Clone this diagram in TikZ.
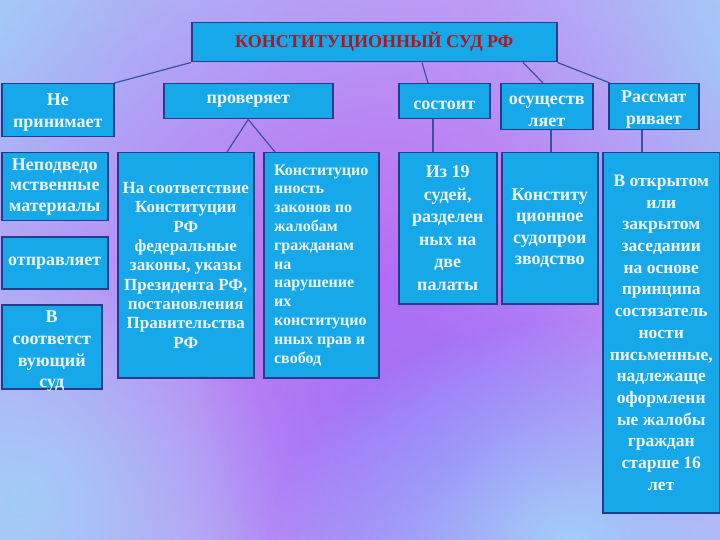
\documentclass[tikz,border=0pt]{standalone}
\usepackage{fontspec}
\setmainfont{Liberation Serif}
\usetikzlibrary{fadings}
\definecolor{boxfill}{RGB}{22,168,232}
\definecolor{boxdraw}{RGB}{35,60,140}
\definecolor{linec}{RGB}{60,80,160}
\definecolor{titlered}{RGB}{180,20,30}
\definecolor{txt}{RGB}{240,247,252}
\definecolor{bgbase}{RGB}{192,172,246}
\definecolor{bgblue}{RGB}{162,205,248}
\definecolor{bgpurple}{RGB}{186,108,242}
\definecolor{bgviolet}{RGB}{150,108,250}
\tikzfading[name=softedge, inner color=transparent!0, outer color=transparent!100]
\begin{document}
\begin{tikzpicture}[x=1pt,y=-1pt,
  box/.style={draw=boxdraw, line width=1.5pt, fill=boxfill, anchor=north west,
    inner sep=0pt, text=txt, align=center,
    font=\bfseries\fontsize{18}{21}\selectfont},
  fs/.style 2 args={font=\bfseries\fontsize{#1}{#2}\selectfont},
  conn/.style={draw=linec, line width=1.2pt}]
\useasboundingbox (0,0) rectangle (720,540);
\fill[bgbase] (0,0) rectangle (720,540);
\fill[bgblue, path fading=softedge] (0,40) ellipse [x radius=520, y radius=380];
\fill[bgblue, path fading=softedge] (720,60) ellipse [x radius=260, y radius=280];
\fill[bgpurple, path fading=softedge] (360,280) ellipse [x radius=480, y radius=420];
\fill[bgviolet, path fading=softedge] (450,470) ellipse [x radius=260, y radius=260];
\fill[bgblue, path fading=softedge] (570,540) ellipse [x radius=300, y radius=220];
\fill[bgblue, path fading=softedge] (20,500) ellipse [x radius=260, y radius=260];

\node[box, text=titlered, minimum width=365, minimum height=39] (top) at (191,22) {КОНСТИТУЦИОННЫЙ СУД РФ};
\node[box, fs={18}{22}, minimum width=112, minimum height=53] (nep) at (1,83) {\rule{0pt}{17pt}Не\\принимает};
\node[box, minimum width=169, minimum height=35] (prov) at (163,83) {проверяет};
\node[box, minimum width=91, minimum height=35] (sost) at (398,83) {\rule{0pt}{16pt}состоит};
\node[box, fs={18}{22}, minimum width=92, minimum height=46] (osush) at (500,83) {\rule{0pt}{17pt}осуществ\\ляет};
\node[box, fs={18}{22}, minimum width=90, minimum height=46] (rass) at (608,83) {\rule{0pt}{17pt}Рассмат\\ривает};

\node[box, fs={18}{20.5}, minimum width=106, minimum height=68] (neprod) at (1,152) {Неподведо\\мственные\\материалы};
\node[box, minimum width=106, minimum height=52] (otpr) at (1,236) {отправляет};
\node[box, fs={18}{21.7}, inner ysep=-3pt, minimum width=100, minimum height=84] (vsoot) at (1,304) {\rule{0pt}{21pt}В\\соответст\\вующий\\суд};
\node[box, fs={17}{19.3}, minimum width=136, minimum height=225] (nasoot) at (117,152) {На соответствие\\Конституции\\РФ\\федеральные\\законы, указы\\Президента РФ,\\постановления\\Правительства\\РФ};
\node[box, fs={16}{18.8}, align=left, minimum width=115, minimum height=225] (konst) at (263,152) {Конституцио\\нность\\законов по\\жалобам\\гражданам\\на\\нарушение\\их\\конституцио\\нных прав и\\свобод};
\node[box, fs={18}{22.5}, minimum width=98, minimum height=151] (iz19) at (398,152) {Из 19\\судей,\\разделен\\ных на\\две\\палаты};
\node[box, fs={18}{21.4}, minimum width=96, minimum height=151] (ksud) at (501,152) {Конститу\\ционное\\судопрои\\зводство};
\node[box, fs={17.5}{21.7}, minimum width=117, minimum height=360] (votkr) at (602,152) {В открытом\\или\\закрытом\\заседании\\на основе\\принципа\\состязатель\\ности\\письменные,\\надлежаще\\оформленн\\ые жалобы\\граждан\\старше 16\\лет};

\draw[conn] (top.south west) -- (nep.north east);
\draw[conn] ([xshift=231]top.south west) -- ([xshift=30]sost.north west);
\draw[conn] ([xshift=332]top.south west) -- ([xshift=43]osush.north west);
\draw[conn] (top.south east) -- ([xshift=2]rass.north west);
\draw[conn] (prov.south) -- ([xshift=110]nasoot.north west);
\draw[conn] (prov.south) -- ([xshift=12]konst.north west);
\draw[conn] ([xshift=35]sost.south west) -- ([xshift=35]iz19.north west);
\draw[conn] ([xshift=51]osush.south west) -- ([xshift=50]ksud.north west);
\draw[conn] ([xshift=34]rass.south west) -- ([xshift=40]votkr.north west);
\end{tikzpicture}
\end{document}
